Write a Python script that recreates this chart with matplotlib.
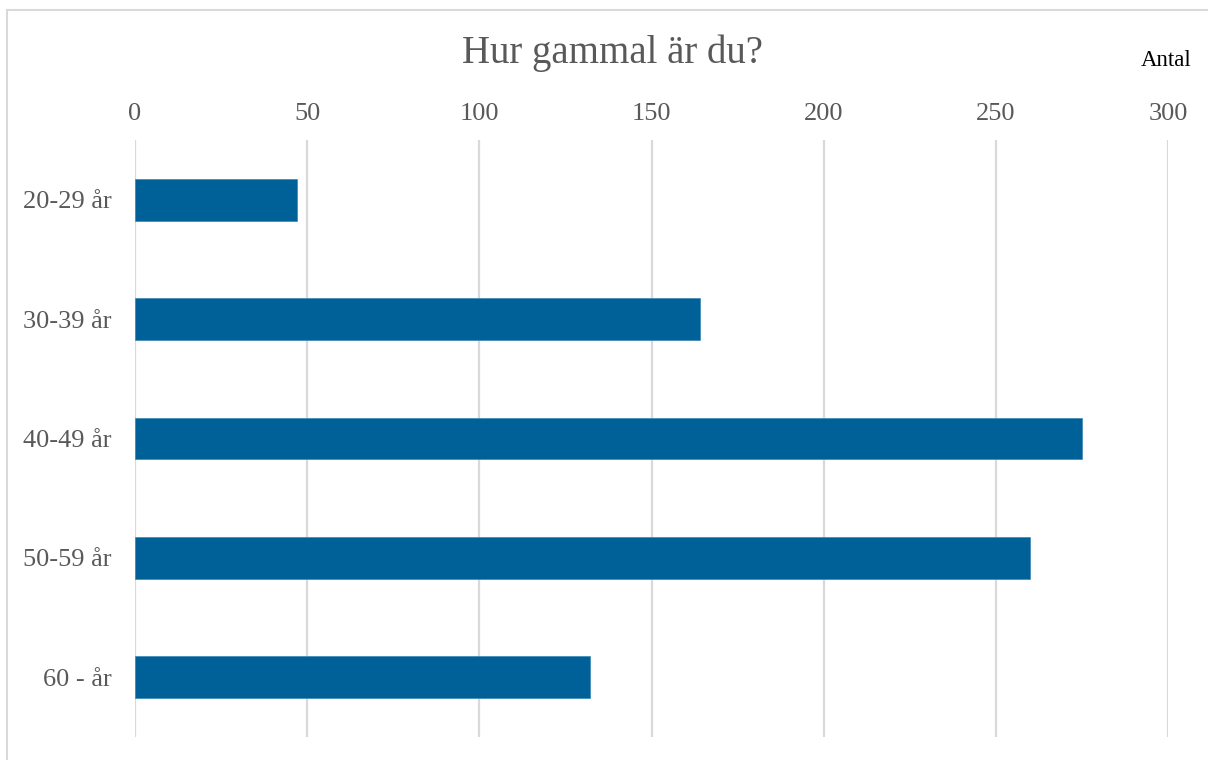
import matplotlib.pyplot as plt
from matplotlib.patches import Rectangle

# data
categories = ['20-29 år', '30-39 år', '40-49 år', '50-59 år', '60 - år']
counts = [47, 164, 275, 260, 132]
x_ticks = [0, 50, 100, 150, 200, 250, 300]

title = 'Hur gammal är du?'
unit_label = 'Antal'

fig = plt.figure(figsize=(12.08, 7.6), dpi=100)
ax = fig.add_axes([135 / 1208, 1 - 737 / 760, (1168 - 135) / 1208, (737 - 140) / 760])

# outer frame (cut off on right and bottom)
fig.patches.append(Rectangle((7 / 1208, -0.1), 1.2, 1.1 - 10 / 760, transform=fig.transFigure,
                             fill=False, edgecolor='#d9d9d9', linewidth=1.5, zorder=0))

ax.barh(range(len(categories)), counts, height=0.35, color='#006198',
        edgecolor='#3b88b8', linewidth=0.5, zorder=3)

ax.set_xlim(0, 300)
ax.set_ylim(len(categories) - 0.5, -0.5)
ax.set_xticks(x_ticks)
ax.set_yticks(range(len(categories)))
ax.set_yticklabels(categories)
ax.xaxis.tick_top()
ax.grid(axis='x', color='#d9d9d9', linewidth=1.6, zorder=0)
for s in ax.spines.values():
    s.set_visible(False)
ax.tick_params(axis='x', length=0, pad=11, labelsize=19, labelcolor='#595959')
ax.tick_params(axis='y', length=0, pad=17, labelsize=19, labelcolor='#595959')
for lbl in ax.get_xticklabels() + ax.get_yticklabels():
    lbl.set_fontfamily('Liberation Serif')

fig.text(612 / 1208, 1 - 53 / 760, title, ha='center', va='center',
         fontsize=28, color='#595959', family='Liberation Serif')
fig.text(1192 / 1208, 1 - 61 / 760, unit_label, ha='right', va='center',
         fontsize=16.5, color='black', family='Liberation Serif')

fig.savefig('out.png', dpi=100)
